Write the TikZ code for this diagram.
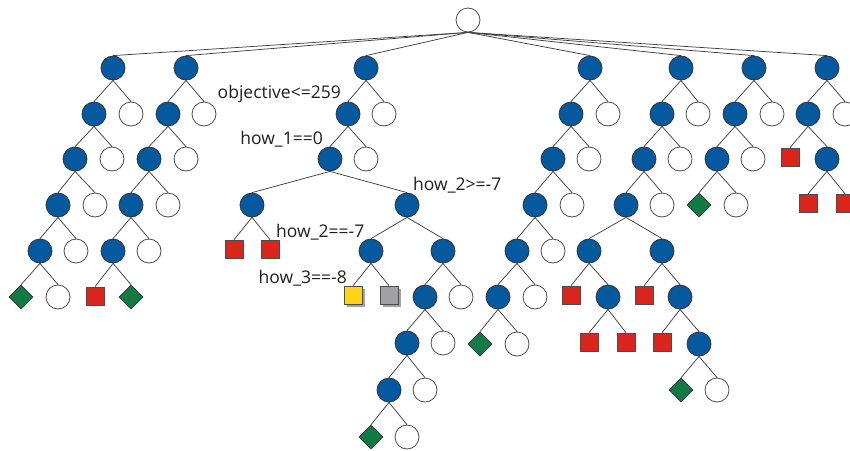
\documentclass[tikz,border=0pt]{standalone}
\usepackage{fontspec}
\setmainfont{Open Sans}
\usetikzlibrary{shapes.geometric,shadows}
\definecolor{nblue}{HTML}{04599F}
\definecolor{ngreen}{HTML}{117A45}
\definecolor{nred}{HTML}{DA251C}
\definecolor{nyellow}{HTML}{FFD21C}
\definecolor{ngray}{HTML}{A2A2A4}
\tikzset{
  bn/.style={circle, draw=black!80, fill=nblue, minimum size=24pt, inner sep=0pt, line width=0.8pt},
  wn/.style={circle, draw=black!70, fill=white, minimum size=24pt, inner sep=0pt, line width=0.8pt},
  rs/.style={rectangle, draw=black!70, fill=nred, minimum size=18pt, inner sep=0pt, line width=0.6pt},
  ys/.style={rectangle, draw=black!70, fill=nyellow, minimum size=18pt, inner sep=0pt, line width=0.6pt,
     drop shadow={shadow xshift=2.5pt, shadow yshift=-2.5pt, fill=black!45, opacity=0.8}},
  gs/.style={rectangle, draw=black!70, fill=ngray, minimum size=18pt, inner sep=0pt, line width=0.6pt,
     drop shadow={shadow xshift=2.5pt, shadow yshift=-2.5pt, fill=black!45, opacity=0.8}},
  gd/.style={diamond, draw=black!80, fill=ngreen, minimum width=24pt, minimum height=24pt, inner sep=0pt, line width=0.6pt},
  edge/.style={draw=black!75, line width=0.75pt},
  lbl/.style={font=\fontsize{17.5}{20}\selectfont, text=black!88, inner sep=0pt}
}
\begin{document}
\begin{tikzpicture}[x=1pt,y=-1pt]
\useasboundingbox (0,0) rectangle (850,450);
\node[wn] (r) at (468,20) {};
% tree A
\node[bn] (a) at (113,68) {};
\node[bn] (a1) at (94,114) {};
\node[wn] (a2) at (131,114) {};
\node[bn] (a11) at (75,159) {};
\node[wn] (a12) at (112,159) {};
\node[bn] (a111) at (58,205) {};
\node[wn] (a112) at (95,205) {};
\node[bn] (a1111) at (40,251) {};
\node[wn] (a1112) at (76,251) {};
\node[gd] (a11111) at (21,297) {};
\node[wn] (a11112) at (58,297) {};
% tree B
\node[bn] (b) at (186,68) {};
\node[bn] (b1) at (168,114) {};
\node[wn] (b2) at (204,114) {};
\node[bn] (b11) at (149,159) {};
\node[wn] (b12) at (186,159) {};
\node[bn] (b111) at (131,205) {};
\node[wn] (b112) at (168,205) {};
\node[bn] (b1111) at (113,251) {};
\node[wn] (b1112) at (149,251) {};
\node[rs] (b11111) at (95,296) {};
\node[gd] (b11112) at (131,297) {};
% tree C
\node[bn] (c) at (366,68) {};
\node[bn] (c1) at (348,114) {};
\node[wn] (c2) at (384,114) {};
\node[bn] (c11) at (330,159) {};
\node[wn] (c12) at (366,159) {};
\node[bn] (c111) at (252,205) {};
\node[bn] (c112) at (407,205) {};
\node[rs] (c1111) at (234,249) {};
\node[rs] (c1112) at (270,249) {};
\node[bn] (c1121) at (371,251) {};
\node[bn] (c1122) at (443,251) {};
\node[ys] (c11211) at (353,295) {};
\node[gs] (c11212) at (389,295) {};
\node[bn] (c11221) at (425,297) {};
\node[wn] (c11222) at (461,297) {};
\node[bn] (c112211) at (407,343) {};
\node[wn] (c112212) at (443,343) {};
\node[bn] (c1122111) at (389,390) {};
\node[wn] (c1122112) at (425,390) {};
\node[gd] (c11221111) at (371,437) {};
\node[wn] (c11221112) at (407,437) {};
% tree D
\node[bn] (d) at (590,68) {};
\node[bn] (d1) at (571,114) {};
\node[wn] (d2) at (608,114) {};
\node[bn] (d11) at (553,159) {};
\node[wn] (d12) at (589,159) {};
\node[bn] (d111) at (535,205) {};
\node[wn] (d112) at (572,205) {};
\node[bn] (d1111) at (517,251) {};
\node[wn] (d1112) at (553,251) {};
\node[bn] (d11111) at (498,297) {};
\node[wn] (d11112) at (535,297) {};
\node[gd] (d111111) at (480,344) {};
\node[wn] (d111112) at (517,344) {};
% tree E
\node[bn] (e) at (681,68) {};
\node[bn] (e1) at (662,114) {};
\node[wn] (e2) at (698,114) {};
\node[bn] (e11) at (644,159) {};
\node[wn] (e12) at (680,159) {};
\node[bn] (e111) at (626,205) {};
\node[wn] (e112) at (662,205) {};
\node[bn] (e1111) at (589,251) {};
\node[bn] (e1112) at (662,251) {};
\node[rs] (e11111) at (571,295) {};
\node[bn] (e11112) at (608,297) {};
\node[rs] (e11121) at (644,295) {};
\node[bn] (e11122) at (680,297) {};
\node[rs] (e111121) at (589,342) {};
\node[rs] (e111122) at (626,342) {};
\node[rs] (e111221) at (662,342) {};
\node[bn] (e111222) at (699,344) {};
\node[gd] (e1112221) at (681,390) {};
\node[wn] (e1112222) at (717,390) {};
% tree F
\node[bn] (f) at (754,68) {};
\node[bn] (f1) at (735,114) {};
\node[wn] (f2) at (772,114) {};
\node[bn] (f11) at (717,159) {};
\node[wn] (f12) at (753,159) {};
\node[gd] (f111) at (699,205) {};
\node[wn] (f112) at (736,205) {};
% tree G
\node[bn] (g) at (827,68) {};
\node[bn] (g1) at (808,114) {};
\node[wn] (g2) at (845,114) {};
\node[rs] (g11) at (790,157) {};
\node[bn] (g12) at (827,159) {};
\node[rs] (g121) at (808,203) {};
\node[rs] (g122) at (845,203) {};
% edges
\foreach \p/\q in {r/a,r/b,r/c,r/d,r/e,r/f,r/g,
  a/a1,a/a2,a1/a11,a1/a12,a11/a111,a11/a112,a111/a1111,a111/a1112,a1111/a11111,a1111/a11112,
  b/b1,b/b2,b1/b11,b1/b12,b11/b111,b11/b112,b111/b1111,b111/b1112,b1111/b11111,b1111/b11112,
  c/c1,c/c2,c1/c11,c1/c12,c11/c111,c11/c112,c111/c1111,c111/c1112,c112/c1121,c112/c1122,
  c1121/c11211,c1121/c11212,c1122/c11221,c1122/c11222,c11221/c112211,c11221/c112212,
  c112211/c1122111,c112211/c1122112,c1122111/c11221111,c1122111/c11221112,
  d/d1,d/d2,d1/d11,d1/d12,d11/d111,d11/d112,d111/d1111,d111/d1112,d1111/d11111,d1111/d11112,
  d11111/d111111,d11111/d111112,
  e/e1,e/e2,e1/e11,e1/e12,e11/e111,e11/e112,e111/e1111,e111/e1112,e1111/e11111,e1111/e11112,
  e1112/e11121,e1112/e11122,e11112/e111121,e11112/e111122,e11122/e111221,e11122/e111222,
  e111222/e1112221,e111222/e1112222,
  f/f1,f/f2,f1/f11,f1/f12,f11/f111,f11/f112,
  g/g1,g/g2,g1/g11,g1/g12,g12/g121,g12/g122}
  \draw[edge] (\p.south) -- (\q.north);
% labels
\node[lbl, anchor=east] (l1) at (341,94) {objective<=259};
\node[lbl, anchor=east] (l2) at (323,139) {how\_1==0};
\node[lbl, anchor=west] (l3) at (413,185) {how\_2>=-7};
\node[lbl, anchor=west] (l4) at (276,232) {how\_2==-7};
\node[lbl, anchor=east] (l5) at (347,278) {how\_3==-8};
\end{tikzpicture}
\end{document}
